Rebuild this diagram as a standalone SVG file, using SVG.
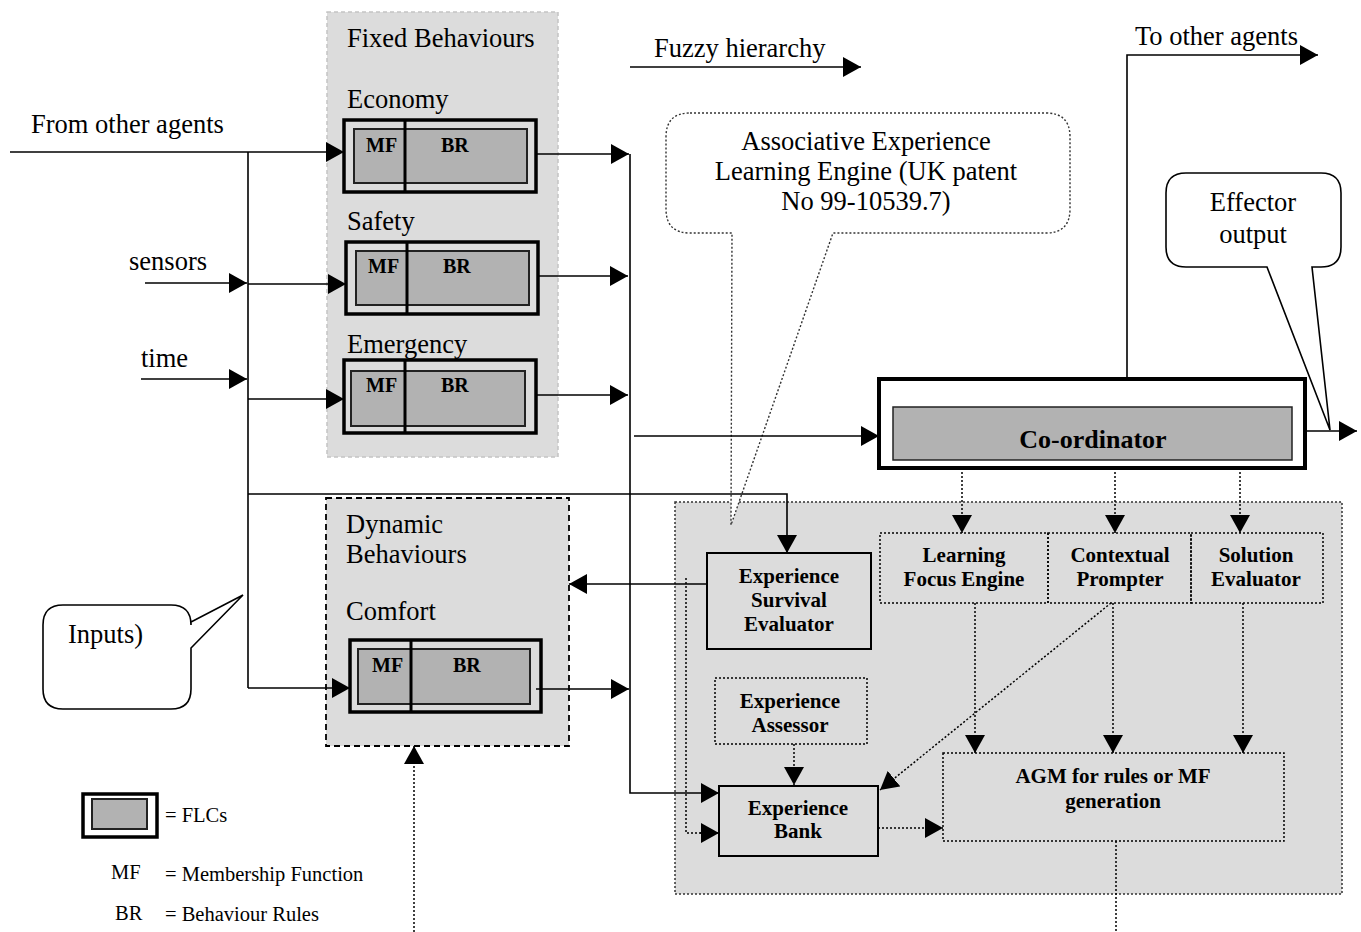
<svg xmlns="http://www.w3.org/2000/svg" width="1361" height="932" viewBox="0 0 1361 932">
<style>
  text{font-family:"Liberation Serif","Times New Roman",serif;fill:#000}
  .lab{font-size:26.5px}
  .b{font-size:20px;font-weight:bold}
  .bc{font-size:21px;font-weight:bold;text-anchor:middle}
  .lg{font-size:20.5px}
  .ln{fill:none;stroke:#000;stroke-width:1.6}
  .dt{fill:none;stroke:#000;stroke-width:1.5;stroke-dasharray:2 2}
  .outer{fill:#dcdcdc;stroke:#000;stroke-width:3.5}
  .inner{fill:#b2b2b2;stroke:#222;stroke-width:2}
  .div{stroke:#000;stroke-width:3}
  .gbox{fill:#dcdcdc}
</style>
<defs>
  <marker id="ah" markerUnits="userSpaceOnUse" markerWidth="18" markerHeight="20" refX="18" refY="10" orient="auto">
    <path d="M0,0 L18,10 L0,20 Z" fill="#000"/>
  </marker>
</defs>

<!-- background groups -->
<g id="fixed-behaviours">
  <rect x="327" y="12" width="231" height="445" class="gbox" stroke="#c4c4c4" stroke-width="1.5" stroke-dasharray="4 3"/>
  <text class="lab" x="347" y="47">Fixed Behaviours</text>
</g>
<g id="dynamic-behaviours">
  <rect x="326" y="498" width="243" height="248" class="gbox" stroke="#000" stroke-width="1.8" stroke-dasharray="6 4"/>
  <text class="lab" x="346" y="533">Dynamic</text>
  <text class="lab" x="346" y="563">Behaviours</text>
  <text class="lab" x="346" y="620">Comfort</text>
</g>
<g id="learning-engine">
  <rect x="675" y="502" width="667" height="392" class="gbox" stroke="#333" stroke-width="1.5" stroke-dasharray="2 2"/>
</g>

<!-- FLC nodes -->
<g id="economy">
  <text class="lab" x="347" y="108">Economy</text>
  <rect x="344" y="120" width="192" height="72" class="outer"/>
  <rect x="354" y="129" width="173" height="54" class="inner"/>
  <line x1="405" y1="120" x2="405" y2="192" class="div"/>
  <text class="b" x="366" y="152">MF</text>
  <text class="b" x="441" y="152">BR</text>
</g>
<g id="safety">
  <text class="lab" x="347" y="230">Safety</text>
  <rect x="346" y="242" width="192" height="72" class="outer"/>
  <rect x="356" y="251" width="173" height="54" class="inner"/>
  <line x1="407" y1="242" x2="407" y2="314" class="div"/>
  <text class="b" x="368" y="273">MF</text>
  <text class="b" x="443" y="273">BR</text>
</g>
<g id="emergency">
  <text class="lab" x="347" y="353">Emergency</text>
  <rect x="344" y="360" width="192" height="73" class="outer"/>
  <rect x="351" y="371" width="174" height="55" class="inner"/>
  <line x1="405" y1="360" x2="405" y2="433" class="div"/>
  <text class="b" x="366" y="392">MF</text>
  <text class="b" x="441" y="392">BR</text>
</g>
<g id="comfort">
  <rect x="350" y="640" width="191" height="72" class="outer"/>
  <rect x="358" y="649" width="172" height="55" class="inner"/>
  <line x1="411" y1="640" x2="411" y2="712" class="div"/>
  <text class="b" x="372" y="672">MF</text>
  <text class="b" x="453" y="672">BR</text>
</g>

<g id="coordinator">
  <rect x="879" y="379" width="426" height="89" fill="#fff" stroke="#000" stroke-width="4"/>
  <rect x="893" y="407" width="399" height="53" fill="#b2b2b2" stroke="#222" stroke-width="1.5"/>
  <text x="1093" y="448" font-size="26" font-weight="bold" text-anchor="middle">Co-ordinator</text>
</g>

<g id="ese">
  <rect x="707" y="553" width="164" height="96" fill="#dcdcdc" stroke="#000" stroke-width="2"/>
  <text class="bc" x="789" y="583">Experience</text>
  <text class="bc" x="789" y="607">Survival</text>
  <text class="bc" x="789" y="631">Evaluator</text>
</g>
<g id="lfe">
  <rect x="880" y="533" width="168" height="70" class="dt"/>
  <text class="bc" x="964" y="562">Learning</text>
  <text class="bc" x="964" y="586">Focus Engine</text>
</g>
<g id="cp">
  <rect x="1048" y="533" width="143" height="70" class="dt"/>
  <text class="bc" x="1120" y="562">Contextual</text>
  <text class="bc" x="1120" y="586">Prompter</text>
</g>
<g id="se">
  <rect x="1191" y="533" width="132" height="70" class="dt"/>
  <text class="bc" x="1256" y="562">Solution</text>
  <text class="bc" x="1256" y="586">Evaluator</text>
</g>
<g id="ea">
  <rect x="715" y="678" width="152" height="66" class="dt"/>
  <text class="bc" x="790" y="708">Experience</text>
  <text class="bc" x="790" y="732">Assessor</text>
</g>
<g id="eb">
  <rect x="719" y="786" width="159" height="70" fill="#dcdcdc" stroke="#000" stroke-width="2"/>
  <text class="bc" x="798" y="815">Experience</text>
  <text class="bc" x="798" y="838">Bank</text>
</g>
<g id="agm">
  <rect x="943" y="753" width="341" height="88" class="dt"/>
  <text class="bc" x="1113" y="783">AGM for rules or MF</text>
  <text class="bc" x="1113" y="808">generation</text>
</g>

<!-- callouts -->
<g id="aele-callout">
  <path d="M690,113 H1046 Q1070,113 1070,137 V209 Q1070,233 1046,233 H833 L731,525 L732,233 H690 Q666,233 666,209 V137 Q666,113 690,113 Z" fill="#fff" stroke="#333" stroke-width="1.4" stroke-dasharray="2 2"/>
  <text class="lab" x="866" y="150" text-anchor="middle">Associative Experience</text>
  <text class="lab" x="866" y="180" text-anchor="middle">Learning Engine (UK patent</text>
  <text class="lab" x="866" y="210" text-anchor="middle">No 99-10539.7)</text>
</g>
<g id="effector-callout">
  <path d="M1186,173 H1321 Q1341,173 1341,193 V247 Q1341,267 1321,267 H1312 L1330,430 L1267,267 H1186 Q1166,267 1166,247 V193 Q1166,173 1186,173 Z" fill="#fff" stroke="#000" stroke-width="1.6"/>
  <text class="lab" x="1253" y="211" text-anchor="middle">Effector</text>
  <text class="lab" x="1253" y="243" text-anchor="middle">output</text>
</g>
<g id="inputs-callout">
  <path d="M63,605 H171 Q191,605 191,625 V622 L243,595 L191,648 V689 Q191,709 171,709 H63 Q43,709 43,689 V625 Q43,605 63,605 Z" fill="#fff" stroke="#000" stroke-width="1.6"/>
  <text class="lab" x="68" y="643">Inputs)</text>
</g>

<!-- labels -->
<g id="labels">
  <text class="lab" x="31" y="133">From other agents</text>
  <text class="lab" x="129" y="270">sensors</text>
  <text class="lab" x="141" y="367">time</text>
  <text class="lab" x="654" y="57">Fuzzy hierarchy</text>
  <text class="lab" x="1135" y="45">To other agents</text>
</g>

<!-- connectors -->
<g id="connectors">
  <line x1="10" y1="152" x2="344" y2="152" class="ln" marker-end="url(#ah)"/>
  <line x1="248" y1="152" x2="248" y2="688" class="ln"/>
  <line x1="145" y1="283" x2="247" y2="283" class="ln" marker-end="url(#ah)"/>
  <line x1="248" y1="284" x2="346" y2="284" class="ln" marker-end="url(#ah)"/>
  <line x1="141" y1="379" x2="247" y2="379" class="ln" marker-end="url(#ah)"/>
  <line x1="248" y1="399" x2="344" y2="399" class="ln" marker-end="url(#ah)"/>
  <line x1="248" y1="688" x2="350" y2="688" class="ln" marker-end="url(#ah)"/>
  <polyline points="248,494 787,494 787,553" class="ln" marker-end="url(#ah)"/>

  <line x1="536" y1="154" x2="629" y2="154" class="ln" marker-end="url(#ah)"/>
  <line x1="538" y1="276" x2="628" y2="276" class="ln" marker-end="url(#ah)"/>
  <line x1="536" y1="395" x2="628" y2="395" class="ln" marker-end="url(#ah)"/>
  <line x1="536" y1="689" x2="629" y2="689" class="ln" marker-end="url(#ah)"/>
  <polyline points="630,154 630,793 719,793" class="ln" marker-end="url(#ah)"/>
  <line x1="634" y1="436" x2="879" y2="436" class="ln" marker-end="url(#ah)"/>

  <line x1="630" y1="67" x2="861" y2="67" class="ln" marker-end="url(#ah)"/>
  <polyline points="1127,379 1127,55 1318,55" class="ln" marker-end="url(#ah)"/>
  <line x1="1305" y1="431" x2="1357" y2="431" class="ln" marker-end="url(#ah)"/>

  <line x1="707" y1="584" x2="569" y2="584" class="ln" marker-end="url(#ah)"/>
  <polyline points="686,578 686,833 719,833" class="dt"/>
  <line x1="700" y1="833" x2="719" y2="833" class="ln" marker-end="url(#ah)"/>

  <line x1="962" y1="468" x2="962" y2="533" class="dt" marker-end="url(#ah)"/>
  <line x1="1115" y1="468" x2="1115" y2="533" class="dt" marker-end="url(#ah)"/>
  <line x1="1240" y1="468" x2="1240" y2="533" class="dt" marker-end="url(#ah)"/>
  <line x1="975" y1="603" x2="975" y2="753" class="dt" marker-end="url(#ah)"/>
  <line x1="1113" y1="603" x2="1113" y2="753" class="dt" marker-end="url(#ah)"/>
  <line x1="1243" y1="603" x2="1243" y2="753" class="dt" marker-end="url(#ah)"/>
  <line x1="1111" y1="603" x2="880" y2="790" class="dt" marker-end="url(#ah)"/>
  <line x1="794" y1="744" x2="794" y2="785" class="dt" marker-end="url(#ah)"/>
  <line x1="878" y1="828" x2="943" y2="828" class="dt" marker-end="url(#ah)"/>
  <line x1="1116" y1="841" x2="1116" y2="932" class="dt"/>
  <line x1="414" y1="932" x2="414" y2="746" class="dt" marker-end="url(#ah)"/>
</g>

<!-- legend -->
<g id="legend">
  <rect x="83" y="794" width="74" height="43" fill="#fff" stroke="#000" stroke-width="3.5"/>
  <rect x="92" y="799" width="55" height="30" fill="#b2b2b2" stroke="#222" stroke-width="2"/>
  <text class="lg" x="165" y="822">= FLCs</text>
  <text class="lg" x="111" y="879">MF</text>
  <text class="lg" x="165" y="881">= Membership Function</text>
  <text class="lg" x="115" y="920">BR</text>
  <text class="lg" x="165" y="921">= Behaviour Rules</text>
</g>
</svg>
